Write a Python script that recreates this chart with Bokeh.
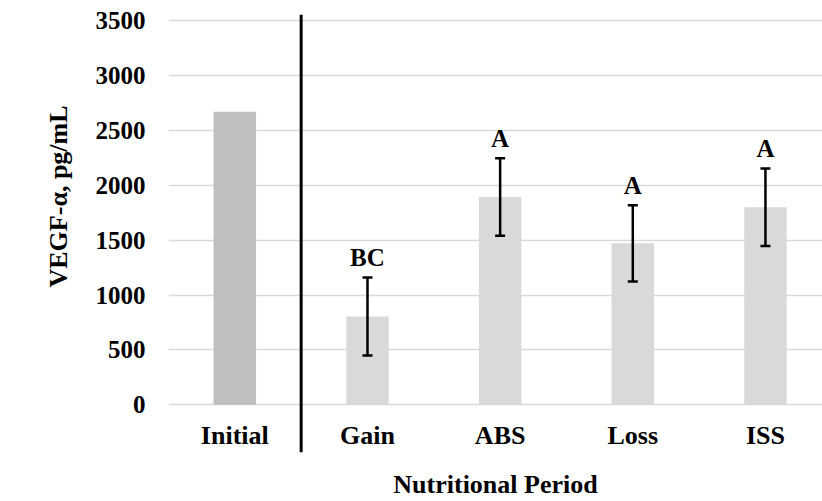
from bokeh.plotting import figure
from bokeh.models import (ColumnDataSource, FixedTicker, LinearAxis, Range1d,
                          Span, Whisker, TeeHead, Grid, Title)
from bokeh.core.properties import value
from bokeh.embed import file_html
from bokeh.resources import INLINE

# Nutritional periods and VEGF-alpha concentrations (pg/mL)
periods = ["Initial", "Gain", "ABS", "Loss", "ISS"]
means = [2670, 805, 1894, 1472, 1800]
sems = [0, 356, 353, 347, 353]
letters = ["", "BC", "A", "A", "A"]
y_ticks = [0, 500, 1000, 1500, 2000, 2500, 3000, 3500]

FONT = "Liberation Serif"
xpos = [i + 0.5 for i in range(len(periods))]
colors = ["#BFBFBF"] + ["#D9D9D9"] * (len(periods) - 1)

p = figure(width=822, height=501, output_backend="svg", toolbar_location=None,
           x_range=Range1d(0, 4.93), y_range=Range1d(-434, 3557),
           min_border_left=168, min_border_right=0,
           min_border_top=14, min_border_bottom=46,
           x_axis_type=None, y_axis_type=None)
p.outline_line_color = None
p.background_fill_color = "white"
p.border_fill_color = "white"

# y axis: bold tick labels, no line or ticks
yaxis = LinearAxis(ticker=FixedTicker(ticks=y_ticks))
yaxis.axis_line_color = None
yaxis.major_tick_line_color = None
yaxis.minor_tick_line_color = None
yaxis.major_tick_out = 0
yaxis.major_label_standoff = 23
yaxis.major_label_text_font = FONT
yaxis.major_label_text_font_style = "bold"
yaxis.major_label_text_font_size = "25px"
yaxis.major_label_text_color = "black"
p.add_layout(yaxis, "left")

# rotated y title, starting above the bottom of the frame
p.add_layout(Title(text="VEGF-α, pg/mL", align="left", offset=165,
                   standoff=40, text_font=FONT, text_font_style="bold",
                   text_font_size="26px", text_color="black"), "left")

# x axis carries only the title
xaxis = LinearAxis(ticker=FixedTicker(ticks=[]))
xaxis.axis_line_color = None
xaxis.major_tick_out = 0
xaxis.minor_tick_out = 0
xaxis.major_label_standoff = 0
xaxis.axis_label = "Nutritional Period"
xaxis.axis_label_standoff = 17
xaxis.axis_label_text_font = FONT
xaxis.axis_label_text_font_style = "bold"
xaxis.axis_label_text_font_size = "26px"
xaxis.axis_label_text_color = "black"
p.add_layout(xaxis, "below")

p.add_layout(Grid(dimension=1, ticker=FixedTicker(ticks=y_ticks),
                  grid_line_color="#D9D9D9", grid_line_width=1.5))

src = ColumnDataSource(dict(x=xpos, top=means, color=colors, period=periods))
p.vbar(x="x", top="top", bottom=0, width=0.32, fill_color="color",
       line_color=None, source=src)

# error bars and significance letters for the post-initial periods
err = ColumnDataSource(dict(
    x=xpos[1:],
    upper=[m + s for m, s in zip(means[1:], sems[1:])],
    lower=[m - s for m, s in zip(means[1:], sems[1:])],
    letter=letters[1:],
))
p.add_layout(Whisker(base="x", upper="upper", lower="lower", source=err,
                     level="overlay", line_color="black", line_width=2.5,
                     upper_head=TeeHead(size=10, line_color="black", line_width=2.5),
                     lower_head=TeeHead(size=10, line_color="black", line_width=2.5)))
p.text(x="x", y="upper", text="letter", source=err, y_offset=-20,
       text_align="center", text_baseline="middle",
       text_font=value(FONT), text_font_style="bold",
       text_font_size="25px", text_color="black")

# category names under the bars
p.text(x="x", y=-281, text="period", source=src,
       text_align="center", text_baseline="middle",
       text_font=value(FONT), text_font_style="bold",
       text_font_size="26px", text_color="black")

# divider between the initial value and the nutritional periods
p.add_layout(Span(location=1.0, dimension="height", line_color="black",
                  line_width=3))

open("out.html", "w").write(file_html(p, INLINE))
